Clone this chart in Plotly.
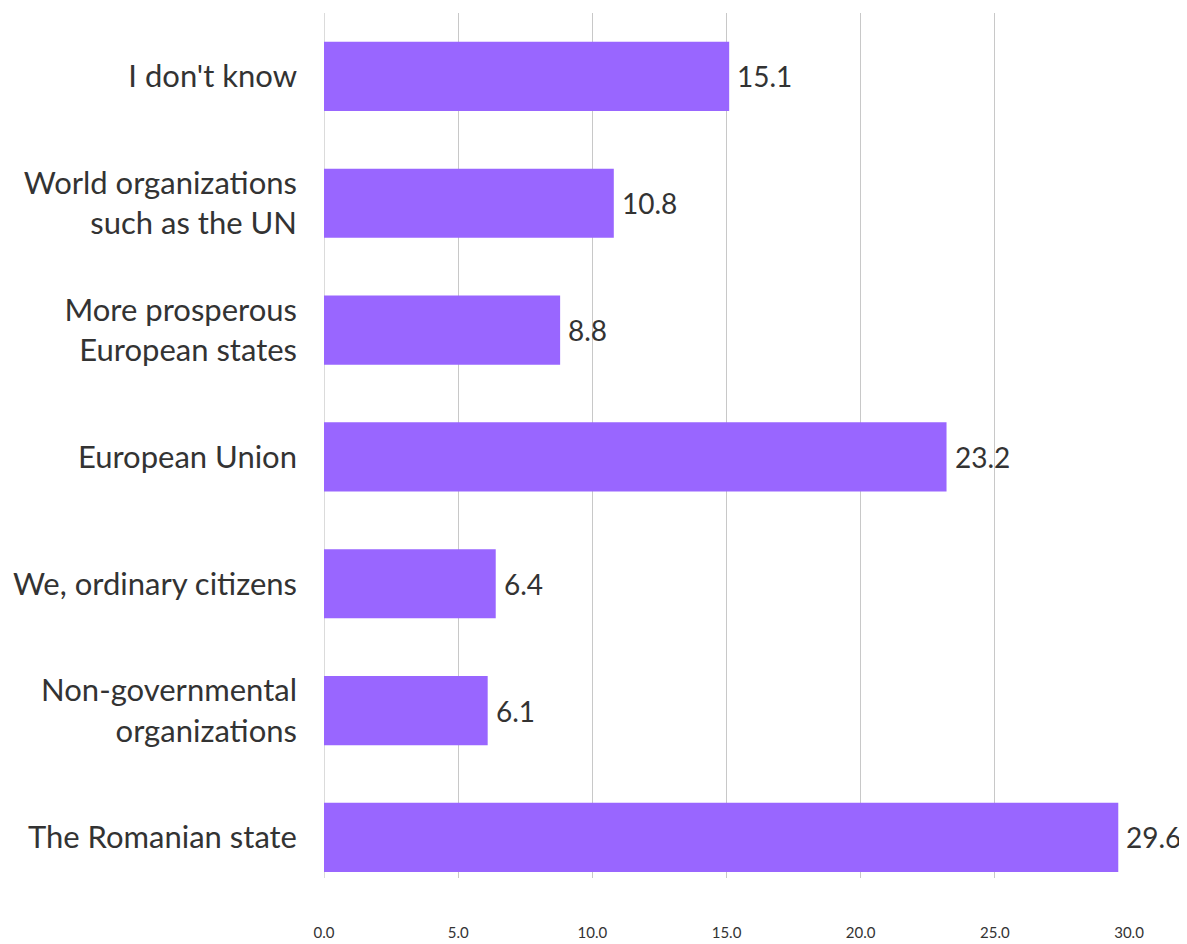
import plotly.graph_objects as go

categories = ["The Romanian state", "Non-governmental<br>organizations", "We, ordinary citizens",
              "European Union", "More prosperous<br>European states",
              "World organizations<br>such as the UN", "I don't know"]
values = [29.6, 6.1, 6.4, 23.2, 8.8, 10.8, 15.1]
tick_vals = [0, 5, 10, 15, 20, 25, 30]
tick_text = ["0.0", "5.0", "10.0", "15.0", "20.0", "25.0", "30.0"]

ypos = list(range(len(categories)))
fig = go.Figure(go.Bar(
    y=ypos, x=values, orientation="h",
    marker=dict(color="#9966FF", line=dict(width=0)),
    width=0.545,
    hoverinfo="x+y",
))
for yv, v in zip(ypos, values):
    fig.add_annotation(x=v, y=yv, xref="x", yref="y", text=f"{v:.1f}",
                       showarrow=False, xanchor="left", xshift=6,
                       font=dict(size=28, color="#333333", family="Lato"))

# page body has an 8px margin, so the figure is offset by 8px
fig.update_layout(
    width=1179, height=936,
    margin=dict(l=316, r=58, t=5, b=66, autoexpand=False),
    plot_bgcolor="white", paper_bgcolor="white",
    showlegend=False,
    font=dict(family="Lato", color="#333333"),
    xaxis=dict(range=[0, 30], tickvals=tick_vals, ticktext=tick_text,
               showgrid=True, gridcolor="#C8C8C8", gridwidth=1.3,
               zeroline=False, showline=False, automargin=False,
               tickfont=dict(size=15, color="#333333"), ticklabelstandoff=44),
    yaxis=dict(range=[-0.32, 6.5], tickvals=ypos, ticktext=categories,
               showgrid=False, zeroline=False, showline=False, automargin=False,
               tickfont=dict(size=31, color="#333333"), ticklabelstandoff=26),
)
fig.add_shape(type="line", xref="x", yref="paper", x0=0, x1=0, y0=0, y1=1,
              line=dict(color="#C8C8C8", width=1.3), layer="below")

fig.write_html("out.html")
